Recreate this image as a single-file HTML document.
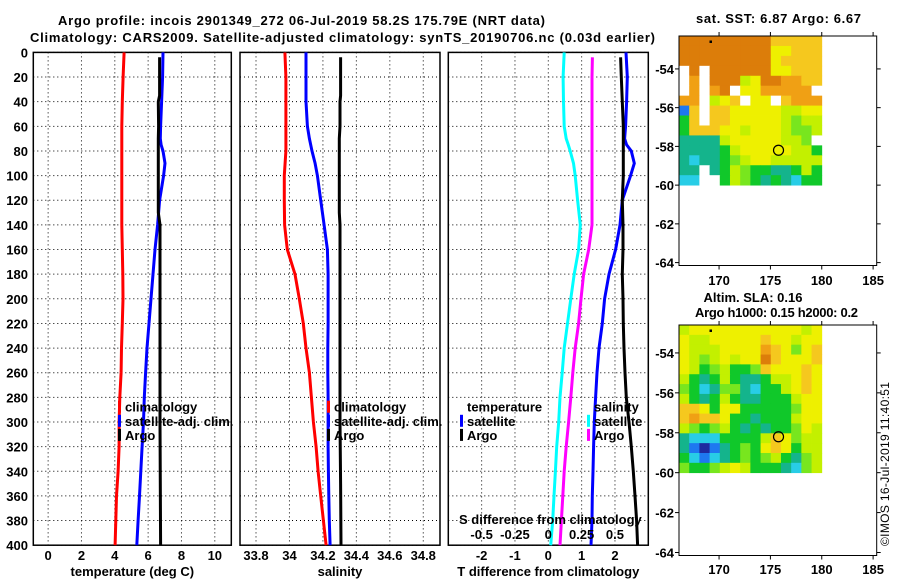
<!DOCTYPE html>
<html><head><meta charset="utf-8"><style>
html,body{margin:0;padding:0;background:#fff;}
svg{display:block;font-family:"Liberation Sans",sans-serif;}
.b{font-weight:bold;font-size:13px;fill:#000;}
</style></head><body>
<svg id="fig" width="900" height="580" viewBox="0 0 900 580" xmlns="http://www.w3.org/2000/svg">
<text class="b" x="58" y="25" textLength="487">Argo profile: incois 2901349_272 06-Jul-2019 58.2S 175.79E (NRT data)</text>
<text class="b" x="30" y="42" textLength="625">Climatology: CARS2009. Satellite-adjusted climatology: synTS_20190706.nc (0.03d earlier)</text>
<text class="b" x="696" y="23" textLength="165">sat. SST: 6.87 Argo: 6.67</text>
<text class="b" x="753" y="302" text-anchor="middle">Altim. SLA: 0.16</text>
<text class="b" x="695" y="317" textLength="163">Argo h1000: 0.15 h2000: 0.2</text>
<text x="889" y="546" font-size="12" transform="rotate(-90 889 546)" textLength="164">©IMOS 16-Jul-2019 11:40:51</text>
<g id="plots"></g>
</svg>
<script>
// ---- profile data ----
const tDepth = [0,20,40,60,80,100,120,140,160,180,200,220,240,260,280,300,320,340,360,380,400];
const satDepth = [0,20,40,60,70,75,80,90,100,120,140,160,180,200,220,240,260,280,300,320,340,360,380,400];
const argoDepth = [4,20,35,40,60,70,100,130,140,200,260,300,350,400];
const diffDepth = [4,20,40,60,80,100,120,140,160,180,200,220,240,260,280,300,320,340,360,380,400];
const tClim = [4.56,4.5,4.45,4.42,4.42,4.42,4.42,4.42,4.45,4.48,4.49,4.45,4.4,4.38,4.3,4.26,4.26,4.2,4.1,4.06,4.02];
const tSat = [6.89,6.87,6.81,6.75,6.73,6.78,6.89,7.01,6.93,6.69,6.57,6.41,6.29,6.17,6.05,5.93,5.85,5.77,5.72,5.64,5.56,5.48,5.40,5.32];
const tArgo = [6.69,6.69,6.69,6.61,6.63,6.61,6.61,6.61,6.71,6.71,6.71,6.71,6.73,6.75];
const sClim = [33.973,33.979,33.979,33.979,33.979,33.969,33.969,33.971,33.987,34.033,34.059,34.083,34.099,34.119,34.131,34.143,34.159,34.171,34.187,34.203,34.219];
const sSat = [34.099,34.099,34.099,34.107,34.119,34.127,34.135,34.153,34.167,34.187,34.207,34.227,34.231,34.231,34.231,34.229,34.229,34.231,34.231,34.231,34.233,34.235,34.238,34.243];
const sArgo = [34.306,34.306,34.306,34.302,34.302,34.298,34.298,34.298,34.302,34.302,34.302,34.302,34.306,34.308];
const tSatDiff = [2.33,2.37,2.35,2.32,2.29,2.35,2.49,2.58,2.47,2.22,2.15,2.02,1.82,1.69,1.62,1.52,1.46,1.42,1.38,1.36,1.34,1.32,1.31,1.28];
const tArgoDiff = [2.17,2.19,2.22,2.25,2.25,2.25,2.22,2.24,2.24,2.22,2.24,2.25,2.27,2.30,2.34,2.42,2.49,2.55,2.60,2.65,2.68];
const sSatDiff = [0.119,0.111,0.114,0.119,0.134,0.150,0.164,0.189,0.202,0.220,0.240,0.227,0.194,0.169,0.144,0.119,0.104,0.088,0.078,0.063,0.053,0.043,0.033,0.018];
const sArgoDiff = [0.331,0.328,0.328,0.328,0.328,0.328,0.328,0.328,0.303,0.265,0.245,0.227,0.202,0.184,0.169,0.152,0.134,0.119,0.109,0.098,0.088];
const depthTicks = [0,20,40,60,80,100,120,140,160,180,200,220,240,260,280,300,320,340,360,380,400];
const tTicks = [0,2,4,6,8,10];
const sTicks = [33.8,34,34.2,34.4,34.6,34.8];
const sTickLabels = ["33.8","34","34.2","34.4","34.6","34.8"];
const dTicks = [-2,-1,0,1,2];
const sdTicks = [-0.5,-0.25,0,0.25,0.5];
const sdTickLabels = ["-0.5","-0.25","0","0.25","0.5"];
// ---- map data ----
const sstGrid = [
"aaaaaaaaa88888","aaaaaaaaa77888","aaaaaaaaa78888","wawaaaaaa77888","w9waaa67aa9988",
"w9w9aw7799999w","99w678w77w8999","18w887777766 77".replace(" ",""),"48w88777776566","48887767776556",
"33336777776 65w".replace(" ",""),"33334677777664","32334567766666","33w3465443346 4".replace(" ",""),"22ww4654343244"];
const slaGrid = [
"67777777777767","76677777877677","76667777987578","7656767 7a87778".replace(" ",""),"76456445877787",
"64346433466787","54235532446787","64346433444677","88747744444577","89887443444677",
"65456434344576","32224444687566","31013454787466","42123454564356","54456764443256"];
const latTicks = [-54,-56,-58,-60,-62,-64];
const lonTicks = [170,175,180,185];
const argoLon = 175.79, argoLat = -58.2;
const palette = {"0":"#1e2aa0","1":"#1e78f0","2":"#28cde6","3":"#14b48c","4":"#10c82a","5":"#78e61e","6":"#c3f000","7":"#eef000","8":"#f5c81e","9":"#f0a014","a":"#dc7d0a","w":"#ffffff"};

const NS='http://www.w3.org/2000/svg';
const root=document.getElementById('plots');
function mk(tag,attrs,parent){const e=document.createElementNS(NS,tag);for(const k in attrs)e.setAttribute(k,attrs[k]);(parent||root).appendChild(e);return e;}
function txt(s,x,y,anchor,parent){const t=mk('text',{x:x,y:y,'text-anchor':anchor||'middle','class':'b'},parent);t.textContent=s;return t;}

const Y0=52.4, Y1=545.2;
const yD=d=>Y0+(Y1-Y0)*d/400;

function panel(name,x0,x1,v0,v1,ticks,labels,xtitle){
  const g=mk('g',{});
  
  
  const xs=v=>x0+(x1-x0)*(v-v0)/(v1-v0);
  depthTicks.forEach(d=>{
    const l=mk('line',{x1:x0,x2:x1,y1:yD(d),y2:yD(d),stroke:'#000','stroke-width':1,'stroke-dasharray':'1 3'},g);
    
    
  });
  ticks.forEach((v,i)=>{
    const l=mk('line',{x1:xs(v),x2:xs(v),y1:Y0,y2:Y1,stroke:'#000','stroke-width':1,'stroke-dasharray':'1 3'},g);
    
    
    const t=txt(labels[i],xs(v),560,'middle',g);
    
    
  });
  const r=mk('rect',{x:x0,y:Y0,width:x1-x0,height:Y1-Y0,fill:'none',stroke:'#000','stroke-width':1.5},g);
  
  
  const t=txt(xtitle,(x0+x1)/2,576,'middle',g);
  
  
  return {g,xs};
}
function series(p,name,depths,vals,color){
  const pts=depths.map((d,i)=>p.xs(vals[i]).toFixed(1)+','+yD(d).toFixed(1)).join(' ');
  const l=mk('polyline',{points:pts,fill:'none',stroke:color,'stroke-width':3},p.g);
  
  
}
function legend(g,x,items){
  items.forEach((it,i)=>{
    const y=406.7+14.1*i;
    if(it[1]){const b=mk('rect',{x:x-2,y:y-6,width:3,height:12,fill:it[1]},g);
      
      }
    const t=txt(it[0],x+5,y+5,'start',g);
    
    
  });
}
// y tick labels
depthTicks.forEach(d=>{
  const t=txt(String(d),28,yD(d)+5,'end');
  
  
});
const p1=panel('temperature-panel',33.3,231.3,-0.89,10.99,tTicks,tTicks.map(String),'temperature (deg C)');
series(p1,'temp-climatology-line',tDepth,tClim,'#ff0000');
series(p1,'temp-satellite-line',satDepth,tSat,'#0000ff');
series(p1,'temp-argo-line',argoDepth,tArgo,'#000000');
legend(p1.g,120,[['climatology','#ff0000'],['satellite-adj. clim.','#0000ff'],['Argo','#000000']]);

const p2=panel('salinity-panel',240,440,33.7043,34.9,sTicks,sTickLabels,'salinity');
series(p2,'sal-climatology-line',tDepth,sClim,'#ff0000');
series(p2,'sal-satellite-line',satDepth,sSat,'#0000ff');
series(p2,'sal-argo-line',argoDepth,sArgo,'#000000');
legend(p2.g,329,[['climatology','#ff0000'],['satellite-adj. clim.','#0000ff'],['Argo','#000000']]);

const p3=panel('difference-panel',448.3,648.3,-3.0,3.0,dTicks,dTicks.map(String),'T difference from climatology');
const sdx=v=>p3.xs(v*4);
series(p3,'sal-diff-satellite-line',satDepth,sSatDiff.map(v=>v*4),'#00ffff');
series(p3,'sal-diff-argo-line',diffDepth,sArgoDiff.map(v=>v*4),'#ff00ff');
series(p3,'temp-diff-satellite-line',satDepth,tSatDiff,'#0000ff');
series(p3,'temp-diff-argo-line',diffDepth,tArgoDiff,'#000000');
legend(p3.g,462,[['temperature',null],['satellite','#0000ff'],['Argo','#000000']]);
legend(p3.g,589,[['salinity',null],['satellite','#00ffff'],['Argo','#ff00ff']]);
{const t=txt('S difference from climatology',459,524,'start',p3.g);

}
sdTicks.forEach((v,i)=>{
  const t=txt(sdTickLabels[i],sdx(v),539,'middle',p3.g);
  
  
});

// maps
function map(name,top,bottom,latTop,grid,lonLabY){
  const g=mk('g',{});
  
  
  const L=679,R=876.7,lon0=166.1,lonR=185.35;
  const lx=v=>L+(R-L)*(v-lon0)/(lonR-lon0);
  const ppd=(bottom-top)/(latTop-(-64.15));
  const ly=v=>top+(latTop-v)*ppd;
  const cx0=L,cx1=lx(180),cy0=top,cy1=ly(-60);
  const rows=grid.length,cols=grid[0].length;
  const cw=(cx1-cx0)/cols,ch=(cy1-cy0)/rows;
  grid.forEach((row,r)=>{[...row].forEach((c,k)=>{
    const cell=mk('rect',{x:(cx0+k*cw).toFixed(2),y:(cy0+r*ch).toFixed(2),width:(cw+0.4).toFixed(2),height:(ch+0.4).toFixed(2),fill:palette[c]||'#fff'},g);
    
    
  });});
  const f=mk('rect',{x:L,y:top,width:R-L,height:bottom-top,fill:'none',stroke:'#000','stroke-width':1},g);
  
  
  latTicks.forEach(v=>{
    mk('line',{x1:L-4,x2:L,y1:ly(v),y2:ly(v),stroke:'#000'},g);
    mk('line',{x1:R,x2:R+4,y1:ly(v),y2:ly(v),stroke:'#000'},g);
    const t=txt(String(v),674,ly(v)+5,'end',g);
    
    
  });
  lonTicks.forEach(v=>{
    mk('line',{x1:lx(v),x2:lx(v),y1:bottom,y2:bottom+4,stroke:'#000'},g);
    mk('line',{x1:lx(v),x2:lx(v),y1:top-4,y2:top,stroke:'#000'},g);
    const t=txt(String(v),lx(v),lonLabY,'middle',g);
    
    
  });
  const c=mk('circle',{cx:lx(argoLon),cy:ly(argoLat),r:5,fill:'none',stroke:'#000','stroke-width':1.2},g);
  
  
  const d=mk('rect',{x:709.5,y:top+4.5,width:2.5,height:2.5,fill:'#000'},g);
  
  
}
map('sst-map',36,265.5,-52.3,sstGrid,285);
map('sla-map',325,555.5,-52.6,slaGrid,574);
</script>
</body></html>
